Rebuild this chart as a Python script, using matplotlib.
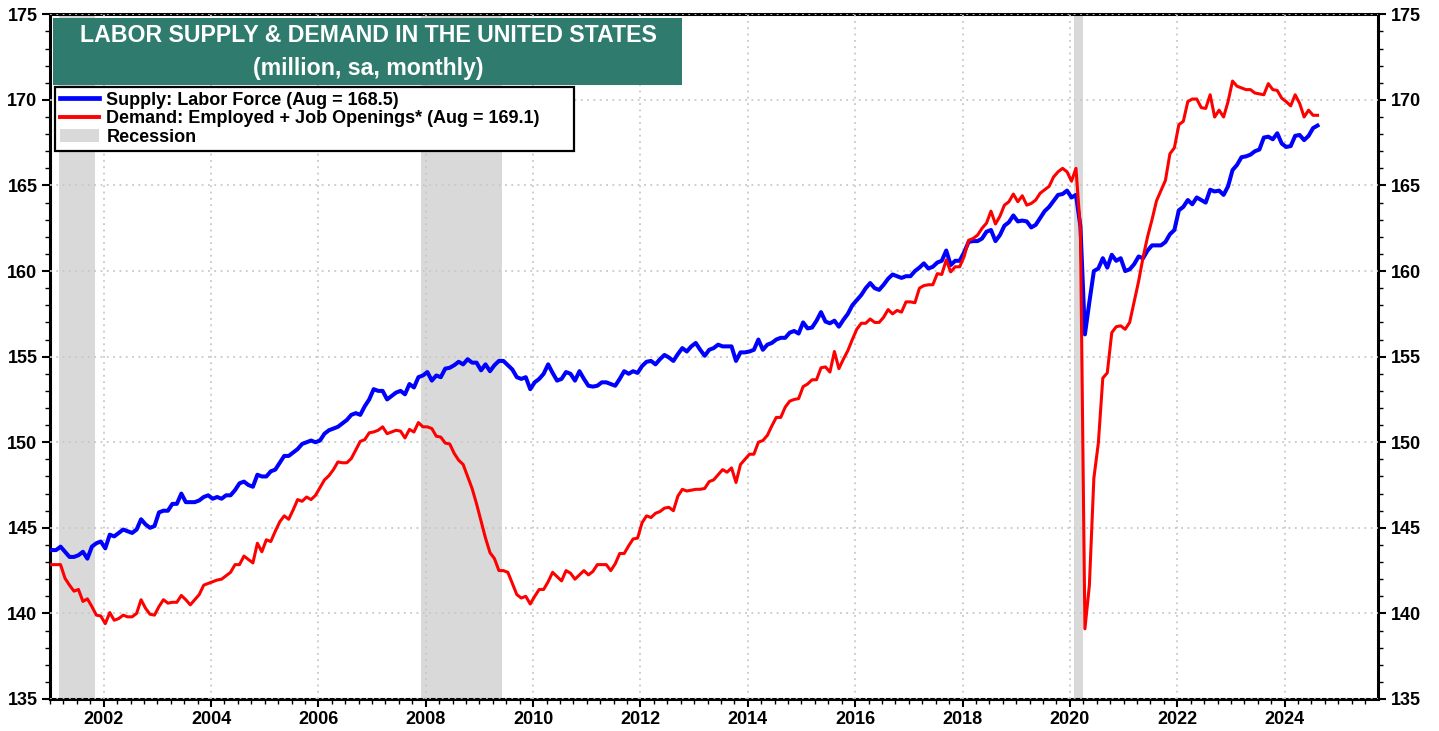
import numpy as np
import matplotlib
matplotlib.use("Agg")
import matplotlib.pyplot as plt
from matplotlib.patches import Rectangle, Patch
from matplotlib.lines import Line2D
from matplotlib.ticker import MultipleLocator

plt.rcParams['font.family'] = ['Liberation Sans', 'DejaVu Sans']
plt.rcParams['font.weight'] = 'bold'

# monthly, Jan 2001 .. Aug 2024 (million, sa)
start_year = 2001
supply = [
    143.7, 143.7, 143.9, 143.6, 143.3, 143.3, 143.4, 143.6, 143.2, 143.9, 144.1, 144.2,  # 2001
    143.8, 144.6, 144.5, 144.7, 144.9, 144.8, 144.7, 144.9, 145.5, 145.2, 145.0, 145.1,  # 2002
    145.9, 146.0, 146.0, 146.4, 146.4, 147.0, 146.5, 146.5, 146.5, 146.6, 146.8, 146.9,  # 2003
    146.7, 146.8, 146.7, 146.9, 146.9, 147.2, 147.6, 147.7, 147.5, 147.4, 148.1, 148.0,  # 2004
    148.0, 148.3, 148.4, 148.8, 149.2, 149.2, 149.4, 149.6, 149.9, 150.0, 150.1, 150.0,  # 2005
    150.1, 150.5, 150.7, 150.8, 150.9, 151.1, 151.3, 151.6, 151.7, 151.6, 152.1, 152.5,  # 2006
    153.1, 153.0, 153.0, 152.5, 152.7, 152.9, 153.0, 152.8, 153.4, 153.2, 153.8, 153.9,  # 2007
    154.1, 153.6, 153.9, 153.8, 154.3, 154.35, 154.5, 154.7, 154.55, 154.85, 154.65, 154.65,  # 2008
    154.2, 154.55, 154.15, 154.5, 154.75, 154.75, 154.5, 154.25, 153.8, 153.7, 153.8, 153.1,  # 2009
    153.5, 153.7, 154.0, 154.55, 154.05, 153.6, 153.7, 154.1, 154.0, 153.6, 154.15, 153.7,  # 2010
    153.3, 153.25, 153.3, 153.5, 153.5, 153.4, 153.3, 153.7, 154.15, 154.0, 154.15, 154.05,  # 2011
    154.45, 154.7, 154.75, 154.55, 154.85, 155.1, 154.95, 154.75, 155.15, 155.5, 155.3, 155.6,  # 2012
    155.8, 155.4, 155.05, 155.4, 155.5, 155.7, 155.6, 155.6, 155.6, 154.75, 155.25, 155.25,  # 2013
    155.3, 155.4, 156.0, 155.4, 155.7, 155.8, 156.0, 156.1, 156.1, 156.4, 156.5, 156.35,  # 2014
    157.0, 156.65, 156.7, 157.1, 157.6, 157.05, 156.95, 157.1, 156.75, 157.15, 157.5, 158.0,  # 2015
    158.3, 158.6, 159.0, 159.3, 159.0, 158.9, 159.2, 159.55, 159.8, 159.7, 159.6, 159.7,  # 2016
    159.7, 160.0, 160.2, 160.45, 160.15, 160.25, 160.5, 160.6, 161.2, 160.35, 160.6, 160.6,  # 2017
    161.1, 161.7, 161.75, 161.75, 161.9, 162.3, 162.4, 161.75, 162.1, 162.65, 162.85, 163.25,  # 2018
    162.9, 162.95, 162.9, 162.55, 162.7, 163.1, 163.5, 163.75, 164.1, 164.45, 164.5, 164.7,  # 2019
    164.3, 164.45, 162.6, 156.3, 158.2, 160.0, 160.15, 160.75, 160.2, 160.95, 160.6, 160.75,  # 2020
    160.0, 160.1, 160.4, 160.85, 160.75, 161.2, 161.5, 161.5, 161.5, 161.7, 162.15, 162.4,  # 2021
    163.55, 163.75, 164.15, 163.9, 164.3, 164.15, 164.0, 164.75, 164.65, 164.7, 164.45, 164.95,  # 2022
    165.9, 166.2, 166.65, 166.7, 166.8, 167.0, 167.1, 167.8, 167.85, 167.7, 168.05, 167.45,  # 2023
    167.25, 167.3, 167.9, 167.95, 167.65, 167.9, 168.35, 168.5,  # 2024
]
demand = [
    142.85, 142.85, 142.85, 142.05, 141.65, 141.3, 141.4, 140.7, 140.85, 140.4, 139.9, 139.85,  # 2001
    139.4, 140.05, 139.6, 139.7, 139.9, 139.8, 139.8, 140.0, 140.8, 140.3, 139.95, 139.9,  # 2002
    140.4, 140.8, 140.6, 140.65, 140.65, 141.05, 140.8, 140.5, 140.8, 141.1, 141.65, 141.75,  # 2003
    141.85, 141.95, 142.0, 142.2, 142.4, 142.85, 142.85, 143.35, 143.15, 142.95, 144.1, 143.6,  # 2004
    144.3, 144.2, 144.8, 145.35, 145.7, 145.5, 146.05, 146.65, 146.55, 146.8, 146.65, 146.9,  # 2005
    147.35, 147.8, 148.05, 148.4, 148.85, 148.8, 148.8, 149.05, 149.55, 150.05, 150.15, 150.55,  # 2006
    150.6, 150.7, 150.9, 150.5, 150.6, 150.7, 150.65, 150.25, 150.75, 150.6, 151.15, 150.9,  # 2007
    150.9, 150.8, 150.35, 150.3, 149.95, 149.9, 149.35, 148.95, 148.7, 148.0, 147.3, 146.4,  # 2008
    145.4, 144.4, 143.55, 143.2, 142.5, 142.5, 142.4, 141.75, 141.1, 140.9, 141.0, 140.55,  # 2009
    141.0, 141.4, 141.4, 141.85, 142.4, 142.15, 141.9, 142.5, 142.35, 142.0, 142.25, 142.5,  # 2010
    142.25, 142.45, 142.85, 142.85, 142.85, 142.5, 142.9, 143.5, 143.5, 143.95, 144.35, 144.4,  # 2011
    145.3, 145.7, 145.6, 145.85, 145.95, 146.15, 146.2, 146.0, 146.85, 147.25, 147.15, 147.2,  # 2012
    147.25, 147.25, 147.3, 147.7, 147.8, 148.1, 148.4, 148.25, 148.5, 147.65, 148.7, 149.0,  # 2013
    149.3, 149.3, 150.0, 150.1, 150.4, 150.95, 151.45, 151.45, 152.05, 152.4, 152.5, 152.55,  # 2014
    153.25, 153.4, 153.65, 153.65, 154.35, 154.4, 154.1, 155.3, 154.3, 154.85, 155.35, 156.0,  # 2015
    156.6, 156.95, 156.95, 157.2, 157.0, 157.0, 157.3, 157.75, 157.5, 157.7, 157.6, 158.2,  # 2016
    158.2, 158.15, 159.0, 159.15, 159.2, 159.2, 159.85, 159.8, 160.65, 159.95, 160.25, 160.25,  # 2017
    160.85, 161.8, 161.9, 162.1, 162.5, 162.8, 163.5, 162.75, 163.2, 163.85, 164.05, 164.5,  # 2018
    164.05, 164.4, 163.85, 163.95, 164.15, 164.55, 164.75, 164.95, 165.5, 165.8, 166.0, 165.8,  # 2019
    165.25, 166.0, 162.4, 139.1, 141.65, 147.9, 149.95, 153.75, 154.05, 156.4, 156.75, 156.8,  # 2020
    156.6, 157.0, 158.2, 159.4, 160.8, 162.0, 163.0, 164.1, 164.7, 165.3, 166.85, 167.2,  # 2021
    168.55, 168.75, 169.9, 170.05, 170.05, 169.55, 169.5, 170.3, 169.0, 169.4, 169.0, 169.9,  # 2022
    171.1, 170.8, 170.7, 170.6, 170.6, 170.4, 170.35, 170.3, 170.95, 170.6, 170.55, 170.1,  # 2023
    169.9, 169.65, 170.3, 169.8, 169.0, 169.4, 169.1, 169.1,  # 2024
]

# NBER recessions (decimal years)
recessions = [(2001 + 2/12, 2001 + 10/12), (2007 + 11/12, 2009 + 5/12), (2020 + 1/12, 2020 + 3/12)]

title_lines = ["LABOR SUPPLY & DEMAND IN THE UNITED STATES", "(million, sa, monthly)"]
supply_label = "Supply: Labor Force (Aug = 168.5)"
demand_label = "Demand: Employed + Job Openings* (Aug = 169.1)"

t = start_year + np.arange(len(supply)) / 12 + 0.03

fig = plt.figure(figsize=(14.39, 7.31), dpi=100)
W, H = 1439, 731
ax = fig.add_axes([50 / W, 1 - 699 / H, 1328 / W, 684.7 / H])

for a, b in recessions:
    ax.axvspan(a, b, color='#d9d9d9', lw=0, zorder=1)

ax.plot(t, supply, color='#0000ff', lw=2.9, zorder=3, solid_joinstyle='round')
ax.plot(t, demand, color='#ff0000', lw=2.2, zorder=4, solid_joinstyle='round')

ax.set_xlim(2001.0, 2025.74)
ax.set_ylim(135, 175)
ax.xaxis.set_major_locator(MultipleLocator(2))
ax.xaxis.set_minor_locator(MultipleLocator(0.25))
ax.yaxis.set_major_locator(MultipleLocator(5))
ax.yaxis.set_minor_locator(MultipleLocator(1))
ax.set_xticks(np.arange(2002, 2025, 2))
ax.grid(True, which='major', color='#c8c8c8', lw=1.3, ls=(0, (1, 2.5)), zorder=2)
ax.set_axisbelow(False)

ax.tick_params(which='both', direction='out', right=True, labelright=True, top=False,
               labelsize=13, width=1.5, colors='black')
ax.tick_params(which='major', length=6, pad=3)
ax.tick_params(which='minor', length=3.5, width=1.0)
for lab in ax.get_xticklabels() + ax.get_yticklabels() + ax.yaxis.get_ticklabels(which='major'):
    lab.set_fontweight('bold')
for s in ax.spines.values():
    s.set_linewidth(2.2)

# title box
box = Rectangle((53 / W, 1 - 85 / H), 629 / W, 67 / H, transform=fig.transFigure,
                facecolor='#2f7b6e', edgecolor='none', zorder=10)
fig.patches.append(box)
fig.text(368 / W, 1 - 36 / H, title_lines[0], color='white', fontsize=16.7,
         fontweight='bold', ha='center', va='center', zorder=11)
fig.text(368 / W, 1 - 68 / H, title_lines[1], color='white', fontsize=16.7,
         fontweight='bold', ha='center', va='center', zorder=11)

handles = [Line2D([], [], color='#0000ff', lw=3.4),
           Line2D([], [], color='#ff0000', lw=2.8),
           Patch(facecolor='#d9d9d9', edgecolor='none')]
leg = ax.legend(handles, [supply_label, demand_label, 'Recession'],
                loc='upper left', bbox_to_anchor=(5 / 1328, 1 - 72.7 / 684.7, 519 / 1328, 0.0),
                mode='expand', borderaxespad=0, fancybox=False, framealpha=1,
                edgecolor='black', prop={'size': 13, 'weight': 'bold'},
                handlelength=2.2, handletextpad=0.4, labelspacing=0.1, borderpad=0.25)
leg.get_frame().set_linewidth(1.6)
leg.set_zorder(12)

fig.savefig('out.png', dpi=100)
